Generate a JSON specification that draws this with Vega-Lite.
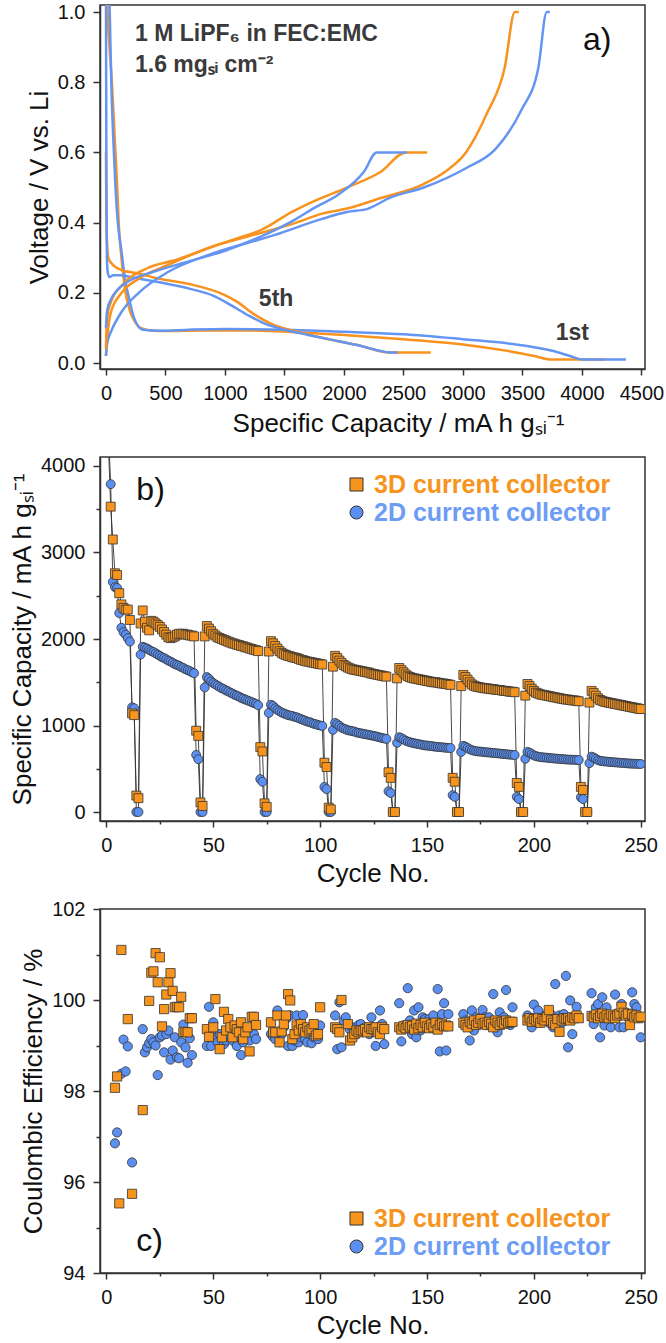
{
"$schema":"https://vega.github.io/schema/vega-lite/v6.json",
"padding":{"left":8,"top":1,"right":0,"bottom":0},
"bounds":"flush",
"config":{"font":"Liberation Sans","view":{"stroke":"#333","strokeWidth":1.5},
"axis":{"domainColor":"#333","domainWidth":1.5,"tickColor":"#333","tickWidth":1.5,"labelFontSize":20,"labelColor":"#111","labelFont":"Liberation Sans","titleFont":"Liberation Sans","titleFontSize":26,"titleFontWeight":"normal","titleColor":"#111","grid":false,"labelFlush":false,"labelOverlap":false},
"axisX":{"labelPadding":8,"titlePadding":5},
"axisY":{"labelPadding":8}},
"spacing":88,
"resolve":{"scale":{"color":"independent","shape":"independent"},"legend":{"color":"independent","shape":"independent"}},
"datasets":{
"curves":[
{"k":"3D1d","s":"3D","i":0,"q":10,"v":1.1},{"k":"3D1d","s":"3D","i":1,"q":14,"v":1.0},{"k":"3D1d","s":"3D","i":2,"q":30,"v":0.9},{"k":"3D1d","s":"3D","i":3,"q":50,"v":0.8},{"k":"3D1d","s":"3D","i":4,"q":65,"v":0.7},{"k":"3D1d","s":"3D","i":5,"q":80,"v":0.6},{"k":"3D1d","s":"3D","i":6,"q":95,"v":0.5},{"k":"3D1d","s":"3D","i":7,"q":107,"v":0.4},{"k":"3D1d","s":"3D","i":8,"q":130,"v":0.3},{"k":"3D1d","s":"3D","i":9,"q":165,"v":0.2},{"k":"3D1d","s":"3D","i":10,"q":200,"v":0.15},{"k":"3D1d","s":"3D","i":11,"q":240,"v":0.12},{"k":"3D1d","s":"3D","i":12,"q":290,"v":0.1},{"k":"3D1d","s":"3D","i":13,"q":380,"v":0.093},{"k":"3D1d","s":"3D","i":14,"q":500,"v":0.091},{"k":"3D1d","s":"3D","i":15,"q":800,"v":0.093},{"k":"3D1d","s":"3D","i":16,"q":1200,"v":0.093},{"k":"3D1d","s":"3D","i":17,"q":1600,"v":0.088},{"k":"3D1d","s":"3D","i":18,"q":2000,"v":0.08},{"k":"3D1d","s":"3D","i":19,"q":2500,"v":0.068},{"k":"3D1d","s":"3D","i":20,"q":3000,"v":0.053},{"k":"3D1d","s":"3D","i":21,"q":3400,"v":0.033},{"k":"3D1d","s":"3D","i":22,"q":3600,"v":0.02},{"k":"3D1d","s":"3D","i":23,"q":3740,"v":0.01},{"k":"3D1d","s":"3D","i":24,"q":4200,"v":0.01},
{"k":"2D1d","s":"2D","i":0,"q":25,"v":1.1},{"k":"2D1d","s":"2D","i":1,"q":32,"v":1.0},{"k":"2D1d","s":"2D","i":2,"q":45,"v":0.8},{"k":"2D1d","s":"2D","i":3,"q":60,"v":0.65},{"k":"2D1d","s":"2D","i":4,"q":80,"v":0.5},{"k":"2D1d","s":"2D","i":5,"q":100,"v":0.4},{"k":"2D1d","s":"2D","i":6,"q":130,"v":0.32},{"k":"2D1d","s":"2D","i":7,"q":160,"v":0.24},{"k":"2D1d","s":"2D","i":8,"q":190,"v":0.19},{"k":"2D1d","s":"2D","i":9,"q":240,"v":0.125},{"k":"2D1d","s":"2D","i":10,"q":310,"v":0.095},{"k":"2D1d","s":"2D","i":11,"q":450,"v":0.092},{"k":"2D1d","s":"2D","i":12,"q":700,"v":0.095},{"k":"2D1d","s":"2D","i":13,"q":1000,"v":0.097},{"k":"2D1d","s":"2D","i":14,"q":1500,"v":0.095},{"k":"2D1d","s":"2D","i":15,"q":2000,"v":0.089},{"k":"2D1d","s":"2D","i":16,"q":2500,"v":0.082},{"k":"2D1d","s":"2D","i":17,"q":3000,"v":0.068},{"k":"2D1d","s":"2D","i":18,"q":3400,"v":0.055},{"k":"2D1d","s":"2D","i":19,"q":3750,"v":0.035},{"k":"2D1d","s":"2D","i":20,"q":3900,"v":0.02},{"k":"2D1d","s":"2D","i":21,"q":4000,"v":0.01},{"k":"2D1d","s":"2D","i":22,"q":4370,"v":0.01},
{"k":"3D5d","s":"3D","i":0,"q":0,"v":0.6},{"k":"3D5d","s":"3D","i":1,"q":3,"v":0.45},{"k":"3D5d","s":"3D","i":2,"q":8,"v":0.35},{"k":"3D5d","s":"3D","i":3,"q":20,"v":0.3},{"k":"3D5d","s":"3D","i":4,"q":45,"v":0.285},{"k":"3D5d","s":"3D","i":5,"q":130,"v":0.265},{"k":"3D5d","s":"3D","i":6,"q":275,"v":0.255},{"k":"3D5d","s":"3D","i":7,"q":450,"v":0.24},{"k":"3D5d","s":"3D","i":8,"q":700,"v":0.225},{"k":"3D5d","s":"3D","i":9,"q":990,"v":0.195},{"k":"3D5d","s":"3D","i":10,"q":1100,"v":0.175},{"k":"3D5d","s":"3D","i":11,"q":1240,"v":0.14},{"k":"3D5d","s":"3D","i":12,"q":1420,"v":0.107},{"k":"3D5d","s":"3D","i":13,"q":1600,"v":0.09},{"k":"3D5d","s":"3D","i":14,"q":1880,"v":0.067},{"k":"3D5d","s":"3D","i":15,"q":2130,"v":0.05},{"k":"3D5d","s":"3D","i":16,"q":2380,"v":0.03},{"k":"3D5d","s":"3D","i":17,"q":2730,"v":0.03},
{"k":"2D5d","s":"2D","i":0,"q":0,"v":1.1},{"k":"2D5d","s":"2D","i":1,"q":2,"v":0.8},{"k":"2D5d","s":"2D","i":2,"q":4,"v":0.5},{"k":"2D5d","s":"2D","i":3,"q":8,"v":0.3},{"k":"2D5d","s":"2D","i":4,"q":15,"v":0.258},{"k":"2D5d","s":"2D","i":5,"q":30,"v":0.245},{"k":"2D5d","s":"2D","i":6,"q":60,"v":0.25},{"k":"2D5d","s":"2D","i":7,"q":120,"v":0.25},{"k":"2D5d","s":"2D","i":8,"q":250,"v":0.242},{"k":"2D5d","s":"2D","i":9,"q":450,"v":0.23},{"k":"2D5d","s":"2D","i":10,"q":700,"v":0.212},{"k":"2D5d","s":"2D","i":11,"q":900,"v":0.192},{"k":"2D5d","s":"2D","i":12,"q":1050,"v":0.165},{"k":"2D5d","s":"2D","i":13,"q":1200,"v":0.135},{"k":"2D5d","s":"2D","i":14,"q":1350,"v":0.11},{"k":"2D5d","s":"2D","i":15,"q":1500,"v":0.095},{"k":"2D5d","s":"2D","i":16,"q":1700,"v":0.08},{"k":"2D5d","s":"2D","i":17,"q":1900,"v":0.066},{"k":"2D5d","s":"2D","i":18,"q":2100,"v":0.052},{"k":"2D5d","s":"2D","i":19,"q":2300,"v":0.035},{"k":"2D5d","s":"2D","i":20,"q":2380,"v":0.03},{"k":"2D5d","s":"2D","i":21,"q":2450,"v":0.03},
{"k":"3D1c","s":"3D","i":0,"q":0,"v":0.02},{"k":"3D1c","s":"3D","i":1,"q":7,"v":0.05},{"k":"3D1c","s":"3D","i":2,"q":14,"v":0.08},{"k":"3D1c","s":"3D","i":3,"q":43,"v":0.146},{"k":"3D1c","s":"3D","i":4,"q":132,"v":0.2},{"k":"3D1c","s":"3D","i":5,"q":275,"v":0.24},{"k":"3D1c","s":"3D","i":6,"q":525,"v":0.28},{"k":"3D1c","s":"3D","i":7,"q":880,"v":0.33},{"k":"3D1c","s":"3D","i":8,"q":1240,"v":0.365},{"k":"3D1c","s":"3D","i":9,"q":1600,"v":0.4},{"k":"3D1c","s":"3D","i":10,"q":1810,"v":0.425},{"k":"3D1c","s":"3D","i":11,"q":2025,"v":0.44},{"k":"3D1c","s":"3D","i":12,"q":2310,"v":0.47},{"k":"3D1c","s":"3D","i":13,"q":2670,"v":0.51},{"k":"3D1c","s":"3D","i":14,"q":2850,"v":0.545},{"k":"3D1c","s":"3D","i":15,"q":3025,"v":0.6},{"k":"3D1c","s":"3D","i":16,"q":3200,"v":0.71},{"k":"3D1c","s":"3D","i":17,"q":3350,"v":0.84},{"k":"3D1c","s":"3D","i":18,"q":3436,"v":1.0},{"k":"3D1c","s":"3D","i":19,"q":3470,"v":1.0},
{"k":"2D1c","s":"2D","i":0,"q":0,"v":0.02},{"k":"2D1c","s":"2D","i":1,"q":7,"v":0.05},{"k":"2D1c","s":"2D","i":2,"q":20,"v":0.07},{"k":"2D1c","s":"2D","i":3,"q":43,"v":0.09},{"k":"2D1c","s":"2D","i":4,"q":132,"v":0.146},{"k":"2D1c","s":"2D","i":5,"q":275,"v":0.2},{"k":"2D1c","s":"2D","i":6,"q":525,"v":0.26},{"k":"2D1c","s":"2D","i":7,"q":880,"v":0.31},{"k":"2D1c","s":"2D","i":8,"q":1420,"v":0.365},{"k":"2D1c","s":"2D","i":9,"q":1810,"v":0.41},{"k":"2D1c","s":"2D","i":10,"q":2025,"v":0.43},{"k":"2D1c","s":"2D","i":11,"q":2205,"v":0.44},{"k":"2D1c","s":"2D","i":12,"q":2380,"v":0.47},{"k":"2D1c","s":"2D","i":13,"q":2670,"v":0.5},{"k":"2D1c","s":"2D","i":14,"q":3025,"v":0.555},{"k":"2D1c","s":"2D","i":15,"q":3275,"v":0.61},{"k":"2D1c","s":"2D","i":16,"q":3490,"v":0.72},{"k":"2D1c","s":"2D","i":17,"q":3633,"v":0.84},{"k":"2D1c","s":"2D","i":18,"q":3704,"v":1.0},{"k":"2D1c","s":"2D","i":19,"q":3730,"v":1.0},
{"k":"3D5c","s":"3D","i":0,"q":0,"v":0.04},{"k":"3D5c","s":"3D","i":1,"q":5,"v":0.1},{"k":"3D5c","s":"3D","i":2,"q":15,"v":0.14},{"k":"3D5c","s":"3D","i":3,"q":43,"v":0.175},{"k":"3D5c","s":"3D","i":4,"q":132,"v":0.22},{"k":"3D5c","s":"3D","i":5,"q":346,"v":0.27},{"k":"3D5c","s":"3D","i":6,"q":600,"v":0.295},{"k":"3D5c","s":"3D","i":7,"q":880,"v":0.33},{"k":"3D5c","s":"3D","i":8,"q":1100,"v":0.355},{"k":"3D5c","s":"3D","i":9,"q":1310,"v":0.38},{"k":"3D5c","s":"3D","i":10,"q":1560,"v":0.43},{"k":"3D5c","s":"3D","i":11,"q":1740,"v":0.46},{"k":"3D5c","s":"3D","i":12,"q":2025,"v":0.5},{"k":"3D5c","s":"3D","i":13,"q":2310,"v":0.545},{"k":"3D5c","s":"3D","i":14,"q":2520,"v":0.6},{"k":"3D5c","s":"3D","i":15,"q":2700,"v":0.6},
{"k":"2D5c","s":"2D","i":0,"q":0,"v":0.1},{"k":"2D5c","s":"2D","i":1,"q":10,"v":0.15},{"k":"2D5c","s":"2D","i":2,"q":40,"v":0.18},{"k":"2D5c","s":"2D","i":3,"q":100,"v":0.21},{"k":"2D5c","s":"2D","i":4,"q":200,"v":0.235},{"k":"2D5c","s":"2D","i":5,"q":400,"v":0.26},{"k":"2D5c","s":"2D","i":6,"q":700,"v":0.29},{"k":"2D5c","s":"2D","i":7,"q":1000,"v":0.32},{"k":"2D5c","s":"2D","i":8,"q":1300,"v":0.36},{"k":"2D5c","s":"2D","i":9,"q":1596,"v":0.41},{"k":"2D5c","s":"2D","i":10,"q":1740,"v":0.44},{"k":"2D5c","s":"2D","i":11,"q":1954,"v":0.48},{"k":"2D5c","s":"2D","i":12,"q":2168,"v":0.545},{"k":"2D5c","s":"2D","i":13,"q":2275,"v":0.6},{"k":"2D5c","s":"2D","i":14,"q":2530,"v":0.6}
],
"cap":[
{"s":"2D","c":1,"q":4370},{"s":"2D","c":2,"q":3790},{"s":"2D","c":3,"q":2660},{"s":"2D","c":4,"q":2600},{"s":"2D","c":5,"q":2590},{"s":"2D","c":6,"q":2300},{"s":"2D","c":7,"q":2130},{"s":"2D","c":8,"q":2080},{"s":"2D","c":9,"q":2050},{"s":"2D","c":10,"q":2010},{"s":"2D","c":11,"q":1970},{"s":"2D","c":12,"q":1210},{"s":"2D","c":13,"q":1200},{"s":"2D","c":14,"q":0},{"s":"2D","c":15,"q":0},{"s":"2D","c":16,"q":1820},{"s":"2D","c":17,"q":1910},{"s":"2D","c":18,"q":1900},{"s":"2D","c":19,"q":1890},{"s":"2D","c":20,"q":1875},{"s":"2D","c":21,"q":1860},{"s":"2D","c":22,"q":1850},{"s":"2D","c":23,"q":1835},{"s":"2D","c":24,"q":1820},{"s":"2D","c":25,"q":1805},{"s":"2D","c":26,"q":1790},{"s":"2D","c":27,"q":1780},{"s":"2D","c":28,"q":1765},{"s":"2D","c":29,"q":1750},{"s":"2D","c":30,"q":1740},{"s":"2D","c":31,"q":1725},{"s":"2D","c":32,"q":1710},{"s":"2D","c":33,"q":1700},{"s":"2D","c":34,"q":1690},{"s":"2D","c":35,"q":1675},{"s":"2D","c":36,"q":1665},{"s":"2D","c":37,"q":1650},{"s":"2D","c":38,"q":1640},{"s":"2D","c":39,"q":1630},{"s":"2D","c":40,"q":1615},{"s":"2D","c":41,"q":1605},{"s":"2D","c":42,"q":660},{"s":"2D","c":43,"q":610},{"s":"2D","c":44,"q":0},{"s":"2D","c":45,"q":0},{"s":"2D","c":46,"q":1440},{"s":"2D","c":47,"q":1560},{"s":"2D","c":48,"q":1540},{"s":"2D","c":49,"q":1510},{"s":"2D","c":50,"q":1490},{"s":"2D","c":51,"q":1475},{"s":"2D","c":52,"q":1460},{"s":"2D","c":53,"q":1445},{"s":"2D","c":54,"q":1430},{"s":"2D","c":55,"q":1420},{"s":"2D","c":56,"q":1405},{"s":"2D","c":57,"q":1395},{"s":"2D","c":58,"q":1380},{"s":"2D","c":59,"q":1370},{"s":"2D","c":60,"q":1355},{"s":"2D","c":61,"q":1345},{"s":"2D","c":62,"q":1335},{"s":"2D","c":63,"q":1320},{"s":"2D","c":64,"q":1310},{"s":"2D","c":65,"q":1300},{"s":"2D","c":66,"q":1290},{"s":"2D","c":67,"q":1280},{"s":"2D","c":68,"q":1270},{"s":"2D","c":69,"q":1260},{"s":"2D","c":70,"q":1250},{"s":"2D","c":71,"q":1235},{"s":"2D","c":72,"q":380},{"s":"2D","c":73,"q":350},{"s":"2D","c":74,"q":0},{"s":"2D","c":75,"q":0},{"s":"2D","c":76,"q":1145},{"s":"2D","c":77,"q":1240},{"s":"2D","c":78,"q":1225},{"s":"2D","c":79,"q":1200},{"s":"2D","c":80,"q":1180},{"s":"2D","c":81,"q":1165},{"s":"2D","c":82,"q":1150},{"s":"2D","c":83,"q":1140},{"s":"2D","c":84,"q":1130},{"s":"2D","c":85,"q":1120},{"s":"2D","c":86,"q":1115},{"s":"2D","c":87,"q":1110},{"s":"2D","c":88,"q":1100},{"s":"2D","c":89,"q":1095},{"s":"2D","c":90,"q":1085},{"s":"2D","c":91,"q":1075},{"s":"2D","c":92,"q":1065},{"s":"2D","c":93,"q":1055},{"s":"2D","c":94,"q":1045},{"s":"2D","c":95,"q":1040},{"s":"2D","c":96,"q":1030},{"s":"2D","c":97,"q":1020},{"s":"2D","c":98,"q":1015},{"s":"2D","c":99,"q":1005},{"s":"2D","c":100,"q":1000},{"s":"2D","c":101,"q":995},{"s":"2D","c":102,"q":290},{"s":"2D","c":103,"q":265},{"s":"2D","c":104,"q":0},{"s":"2D","c":105,"q":0},{"s":"2D","c":106,"q":950},{"s":"2D","c":107,"q":1030},{"s":"2D","c":108,"q":1015},{"s":"2D","c":109,"q":995},{"s":"2D","c":110,"q":975},{"s":"2D","c":111,"q":965},{"s":"2D","c":112,"q":955},{"s":"2D","c":113,"q":945},{"s":"2D","c":114,"q":940},{"s":"2D","c":115,"q":935},{"s":"2D","c":116,"q":930},{"s":"2D","c":117,"q":920},{"s":"2D","c":118,"q":915},{"s":"2D","c":119,"q":910},{"s":"2D","c":120,"q":905},{"s":"2D","c":121,"q":900},{"s":"2D","c":122,"q":895},{"s":"2D","c":123,"q":890},{"s":"2D","c":124,"q":885},{"s":"2D","c":125,"q":880},{"s":"2D","c":126,"q":875},{"s":"2D","c":127,"q":868},{"s":"2D","c":128,"q":862},{"s":"2D","c":129,"q":855},{"s":"2D","c":130,"q":850},{"s":"2D","c":131,"q":845},{"s":"2D","c":132,"q":240},{"s":"2D","c":133,"q":220},{"s":"2D","c":134,"q":0},{"s":"2D","c":135,"q":0},{"s":"2D","c":136,"q":800},{"s":"2D","c":137,"q":865},{"s":"2D","c":138,"q":855},{"s":"2D","c":139,"q":840},{"s":"2D","c":140,"q":825},{"s":"2D","c":141,"q":815},{"s":"2D","c":142,"q":808},{"s":"2D","c":143,"q":800},{"s":"2D","c":144,"q":795},{"s":"2D","c":145,"q":790},{"s":"2D","c":146,"q":785},{"s":"2D","c":147,"q":780},{"s":"2D","c":148,"q":775},{"s":"2D","c":149,"q":770},{"s":"2D","c":150,"q":768},{"s":"2D","c":151,"q":765},{"s":"2D","c":152,"q":762},{"s":"2D","c":153,"q":758},{"s":"2D","c":154,"q":755},{"s":"2D","c":155,"q":752},{"s":"2D","c":156,"q":750},{"s":"2D","c":157,"q":748},{"s":"2D","c":158,"q":745},{"s":"2D","c":159,"q":743},{"s":"2D","c":160,"q":741},{"s":"2D","c":161,"q":740},{"s":"2D","c":162,"q":195},{"s":"2D","c":163,"q":175},{"s":"2D","c":164,"q":0},{"s":"2D","c":165,"q":0},{"s":"2D","c":166,"q":695},{"s":"2D","c":167,"q":765},{"s":"2D","c":168,"q":755},{"s":"2D","c":169,"q":740},{"s":"2D","c":170,"q":725},{"s":"2D","c":171,"q":715},{"s":"2D","c":172,"q":708},{"s":"2D","c":173,"q":703},{"s":"2D","c":174,"q":700},{"s":"2D","c":175,"q":698},{"s":"2D","c":176,"q":695},{"s":"2D","c":177,"q":692},{"s":"2D","c":178,"q":690},{"s":"2D","c":179,"q":688},{"s":"2D","c":180,"q":685},{"s":"2D","c":181,"q":683},{"s":"2D","c":182,"q":680},{"s":"2D","c":183,"q":678},{"s":"2D","c":184,"q":675},{"s":"2D","c":185,"q":673},{"s":"2D","c":186,"q":670},{"s":"2D","c":187,"q":668},{"s":"2D","c":188,"q":665},{"s":"2D","c":189,"q":663},{"s":"2D","c":190,"q":661},{"s":"2D","c":191,"q":659},{"s":"2D","c":192,"q":175},{"s":"2D","c":193,"q":150},{"s":"2D","c":194,"q":0},{"s":"2D","c":195,"q":0},{"s":"2D","c":196,"q":615},{"s":"2D","c":197,"q":695},{"s":"2D","c":198,"q":685},{"s":"2D","c":199,"q":670},{"s":"2D","c":200,"q":655},{"s":"2D","c":201,"q":645},{"s":"2D","c":202,"q":640},{"s":"2D","c":203,"q":635},{"s":"2D","c":204,"q":632},{"s":"2D","c":205,"q":630},{"s":"2D","c":206,"q":628},{"s":"2D","c":207,"q":625},{"s":"2D","c":208,"q":622},{"s":"2D","c":209,"q":620},{"s":"2D","c":210,"q":618},{"s":"2D","c":211,"q":616},{"s":"2D","c":212,"q":614},{"s":"2D","c":213,"q":612},{"s":"2D","c":214,"q":610},{"s":"2D","c":215,"q":608},{"s":"2D","c":216,"q":606},{"s":"2D","c":217,"q":605},{"s":"2D","c":218,"q":604},{"s":"2D","c":219,"q":603},{"s":"2D","c":220,"q":602},{"s":"2D","c":221,"q":601},{"s":"2D","c":222,"q":170},{"s":"2D","c":223,"q":150},{"s":"2D","c":224,"q":0},{"s":"2D","c":225,"q":0},{"s":"2D","c":226,"q":565},{"s":"2D","c":227,"q":640},{"s":"2D","c":228,"q":630},{"s":"2D","c":229,"q":615},{"s":"2D","c":230,"q":600},{"s":"2D","c":231,"q":592},{"s":"2D","c":232,"q":588},{"s":"2D","c":233,"q":585},{"s":"2D","c":234,"q":583},{"s":"2D","c":235,"q":580},{"s":"2D","c":236,"q":578},{"s":"2D","c":237,"q":576},{"s":"2D","c":238,"q":574},{"s":"2D","c":239,"q":572},{"s":"2D","c":240,"q":570},{"s":"2D","c":241,"q":568},{"s":"2D","c":242,"q":566},{"s":"2D","c":243,"q":564},{"s":"2D","c":244,"q":562},{"s":"2D","c":245,"q":560},{"s":"2D","c":246,"q":559},{"s":"2D","c":247,"q":558},{"s":"2D","c":248,"q":557},{"s":"2D","c":249,"q":556},{"s":"2D","c":250,"q":555},
{"s":"3D","c":1,"q":4200},{"s":"3D","c":2,"q":3530},{"s":"3D","c":3,"q":3150},{"s":"3D","c":4,"q":2760},{"s":"3D","c":5,"q":2740},{"s":"3D","c":6,"q":2530},{"s":"3D","c":7,"q":2400},{"s":"3D","c":8,"q":2360},{"s":"3D","c":9,"q":2340},{"s":"3D","c":10,"q":2340},{"s":"3D","c":11,"q":2220},{"s":"3D","c":12,"q":1140},{"s":"3D","c":13,"q":1120},{"s":"3D","c":14,"q":190},{"s":"3D","c":15,"q":160},{"s":"3D","c":16,"q":2180},{"s":"3D","c":17,"q":2330},{"s":"3D","c":18,"q":2200},{"s":"3D","c":19,"q":2130},{"s":"3D","c":20,"q":2100},{"s":"3D","c":21,"q":2210},{"s":"3D","c":22,"q":2200},{"s":"3D","c":23,"q":2180},{"s":"3D","c":24,"q":2160},{"s":"3D","c":25,"q":2140},{"s":"3D","c":26,"q":2110},{"s":"3D","c":27,"q":2080},{"s":"3D","c":28,"q":2050},{"s":"3D","c":29,"q":2020},{"s":"3D","c":30,"q":2010},{"s":"3D","c":31,"q":2020},{"s":"3D","c":32,"q":2030},{"s":"3D","c":33,"q":2050},{"s":"3D","c":34,"q":2060},{"s":"3D","c":35,"q":2060},{"s":"3D","c":36,"q":2060},{"s":"3D","c":37,"q":2050},{"s":"3D","c":38,"q":2050},{"s":"3D","c":39,"q":2040},{"s":"3D","c":40,"q":2040},{"s":"3D","c":41,"q":2030},{"s":"3D","c":42,"q":940},{"s":"3D","c":43,"q":880},{"s":"3D","c":44,"q":110},{"s":"3D","c":45,"q":70},{"s":"3D","c":46,"q":2030},{"s":"3D","c":47,"q":2150},{"s":"3D","c":48,"q":2120},{"s":"3D","c":49,"q":2090},{"s":"3D","c":50,"q":2060},{"s":"3D","c":51,"q":2040},{"s":"3D","c":52,"q":2020},{"s":"3D","c":53,"q":2010},{"s":"3D","c":54,"q":2000},{"s":"3D","c":55,"q":1990},{"s":"3D","c":56,"q":1980},{"s":"3D","c":57,"q":1970},{"s":"3D","c":58,"q":1960},{"s":"3D","c":59,"q":1950},{"s":"3D","c":60,"q":1945},{"s":"3D","c":61,"q":1935},{"s":"3D","c":62,"q":1930},{"s":"3D","c":63,"q":1920},{"s":"3D","c":64,"q":1915},{"s":"3D","c":65,"q":1905},{"s":"3D","c":66,"q":1900},{"s":"3D","c":67,"q":1890},{"s":"3D","c":68,"q":1885},{"s":"3D","c":69,"q":1875},{"s":"3D","c":70,"q":1870},{"s":"3D","c":71,"q":1860},{"s":"3D","c":72,"q":750},{"s":"3D","c":73,"q":700},{"s":"3D","c":74,"q":100},{"s":"3D","c":75,"q":60},{"s":"3D","c":76,"q":1855},{"s":"3D","c":77,"q":1975},{"s":"3D","c":78,"q":1950},{"s":"3D","c":79,"q":1920},{"s":"3D","c":80,"q":1890},{"s":"3D","c":81,"q":1860},{"s":"3D","c":82,"q":1840},{"s":"3D","c":83,"q":1825},{"s":"3D","c":84,"q":1815},{"s":"3D","c":85,"q":1805},{"s":"3D","c":86,"q":1800},{"s":"3D","c":87,"q":1790},{"s":"3D","c":88,"q":1785},{"s":"3D","c":89,"q":1780},{"s":"3D","c":90,"q":1770},{"s":"3D","c":91,"q":1760},{"s":"3D","c":92,"q":1755},{"s":"3D","c":93,"q":1745},{"s":"3D","c":94,"q":1740},{"s":"3D","c":95,"q":1735},{"s":"3D","c":96,"q":1730},{"s":"3D","c":97,"q":1725},{"s":"3D","c":98,"q":1720},{"s":"3D","c":99,"q":1715},{"s":"3D","c":100,"q":1710},{"s":"3D","c":101,"q":1705},{"s":"3D","c":102,"q":570},{"s":"3D","c":103,"q":520},{"s":"3D","c":104,"q":50},{"s":"3D","c":105,"q":30},{"s":"3D","c":106,"q":1680},{"s":"3D","c":107,"q":1805},{"s":"3D","c":108,"q":1780},{"s":"3D","c":109,"q":1750},{"s":"3D","c":110,"q":1725},{"s":"3D","c":111,"q":1700},{"s":"3D","c":112,"q":1685},{"s":"3D","c":113,"q":1670},{"s":"3D","c":114,"q":1660},{"s":"3D","c":115,"q":1650},{"s":"3D","c":116,"q":1645},{"s":"3D","c":117,"q":1640},{"s":"3D","c":118,"q":1635},{"s":"3D","c":119,"q":1630},{"s":"3D","c":120,"q":1625},{"s":"3D","c":121,"q":1620},{"s":"3D","c":122,"q":1615},{"s":"3D","c":123,"q":1610},{"s":"3D","c":124,"q":1600},{"s":"3D","c":125,"q":1595},{"s":"3D","c":126,"q":1590},{"s":"3D","c":127,"q":1585},{"s":"3D","c":128,"q":1580},{"s":"3D","c":129,"q":1575},{"s":"3D","c":130,"q":1570},{"s":"3D","c":131,"q":1565},{"s":"3D","c":132,"q":460},{"s":"3D","c":133,"q":395},{"s":"3D","c":134,"q":0},{"s":"3D","c":135,"q":0},{"s":"3D","c":136,"q":1545},{"s":"3D","c":137,"q":1665},{"s":"3D","c":138,"q":1640},{"s":"3D","c":139,"q":1615},{"s":"3D","c":140,"q":1590},{"s":"3D","c":141,"q":1570},{"s":"3D","c":142,"q":1560},{"s":"3D","c":143,"q":1550},{"s":"3D","c":144,"q":1545},{"s":"3D","c":145,"q":1540},{"s":"3D","c":146,"q":1535},{"s":"3D","c":147,"q":1530},{"s":"3D","c":148,"q":1525},{"s":"3D","c":149,"q":1520},{"s":"3D","c":150,"q":1515},{"s":"3D","c":151,"q":1510},{"s":"3D","c":152,"q":1505},{"s":"3D","c":153,"q":1500},{"s":"3D","c":154,"q":1500},{"s":"3D","c":155,"q":1495},{"s":"3D","c":156,"q":1490},{"s":"3D","c":157,"q":1485},{"s":"3D","c":158,"q":1485},{"s":"3D","c":159,"q":1480},{"s":"3D","c":160,"q":1475},{"s":"3D","c":161,"q":1470},{"s":"3D","c":162,"q":395},{"s":"3D","c":163,"q":350},{"s":"3D","c":164,"q":0},{"s":"3D","c":165,"q":0},{"s":"3D","c":166,"q":1455},{"s":"3D","c":167,"q":1585},{"s":"3D","c":168,"q":1560},{"s":"3D","c":169,"q":1530},{"s":"3D","c":170,"q":1500},{"s":"3D","c":171,"q":1475},{"s":"3D","c":172,"q":1460},{"s":"3D","c":173,"q":1450},{"s":"3D","c":174,"q":1445},{"s":"3D","c":175,"q":1440},{"s":"3D","c":176,"q":1435},{"s":"3D","c":177,"q":1430},{"s":"3D","c":178,"q":1430},{"s":"3D","c":179,"q":1425},{"s":"3D","c":180,"q":1420},{"s":"3D","c":181,"q":1420},{"s":"3D","c":182,"q":1415},{"s":"3D","c":183,"q":1410},{"s":"3D","c":184,"q":1410},{"s":"3D","c":185,"q":1405},{"s":"3D","c":186,"q":1400},{"s":"3D","c":187,"q":1400},{"s":"3D","c":188,"q":1395},{"s":"3D","c":189,"q":1390},{"s":"3D","c":190,"q":1390},{"s":"3D","c":191,"q":1385},{"s":"3D","c":192,"q":335},{"s":"3D","c":193,"q":290},{"s":"3D","c":194,"q":0},{"s":"3D","c":195,"q":0},{"s":"3D","c":196,"q":1345},{"s":"3D","c":197,"q":1480},{"s":"3D","c":198,"q":1455},{"s":"3D","c":199,"q":1425},{"s":"3D","c":200,"q":1400},{"s":"3D","c":201,"q":1380},{"s":"3D","c":202,"q":1370},{"s":"3D","c":203,"q":1360},{"s":"3D","c":204,"q":1355},{"s":"3D","c":205,"q":1350},{"s":"3D","c":206,"q":1345},{"s":"3D","c":207,"q":1340},{"s":"3D","c":208,"q":1335},{"s":"3D","c":209,"q":1330},{"s":"3D","c":210,"q":1325},{"s":"3D","c":211,"q":1320},{"s":"3D","c":212,"q":1315},{"s":"3D","c":213,"q":1310},{"s":"3D","c":214,"q":1305},{"s":"3D","c":215,"q":1300},{"s":"3D","c":216,"q":1300},{"s":"3D","c":217,"q":1295},{"s":"3D","c":218,"q":1290},{"s":"3D","c":219,"q":1290},{"s":"3D","c":220,"q":1285},{"s":"3D","c":221,"q":1280},{"s":"3D","c":222,"q":290},{"s":"3D","c":223,"q":255},{"s":"3D","c":224,"q":0},{"s":"3D","c":225,"q":0},{"s":"3D","c":226,"q":1265},{"s":"3D","c":227,"q":1400},{"s":"3D","c":228,"q":1375},{"s":"3D","c":229,"q":1345},{"s":"3D","c":230,"q":1315},{"s":"3D","c":231,"q":1295},{"s":"3D","c":232,"q":1285},{"s":"3D","c":233,"q":1275},{"s":"3D","c":234,"q":1270},{"s":"3D","c":235,"q":1265},{"s":"3D","c":236,"q":1260},{"s":"3D","c":237,"q":1255},{"s":"3D","c":238,"q":1250},{"s":"3D","c":239,"q":1245},{"s":"3D","c":240,"q":1240},{"s":"3D","c":241,"q":1235},{"s":"3D","c":242,"q":1230},{"s":"3D","c":243,"q":1225},{"s":"3D","c":244,"q":1220},{"s":"3D","c":245,"q":1215},{"s":"3D","c":246,"q":1210},{"s":"3D","c":247,"q":1205},{"s":"3D","c":248,"q":1200},{"s":"3D","c":249,"q":1195},{"s":"3D","c":250,"q":1190}
],
"ce":[
{"s":"2D","c":4,"e":96.85},{"s":"2D","c":5,"e":97.09},{"s":"2D","c":7,"e":98.38},{"s":"2D","c":8,"e":99.13},{"s":"2D","c":9,"e":98.43},{"s":"2D","c":10,"e":98.98},{"s":"2D","c":12,"e":96.43},{"s":"2D","c":17,"e":99.36},{"s":"2D","c":18,"e":98.85},{"s":"2D","c":19,"e":98.96},{"s":"2D","c":20,"e":99.05},{"s":"2D","c":21,"e":99.14},{"s":"2D","c":22,"e":99.07},{"s":"2D","c":23,"e":99.0},{"s":"2D","c":24,"e":98.35},{"s":"2D","c":25,"e":99.18},{"s":"2D","c":26,"e":99.22},{"s":"2D","c":27,"e":98.85},{"s":"2D","c":28,"e":99.25},{"s":"2D","c":29,"e":99.33},{"s":"2D","c":30,"e":98.69},{"s":"2D","c":31,"e":98.89},{"s":"2D","c":32,"e":99.18},{"s":"2D","c":33,"e":98.74},{"s":"2D","c":34,"e":98.72},{"s":"2D","c":35,"e":99.07},{"s":"2D","c":36,"e":99.46},{"s":"2D","c":37,"e":98.96},{"s":"2D","c":38,"e":98.62},{"s":"2D","c":39,"e":99.16},{"s":"2D","c":40,"e":98.79},
{"s":"2D","c":47,"e":98.99},{"s":"2D","c":48,"e":99.85},{"s":"2D","c":49,"e":98.99},{"s":"2D","c":50,"e":99.51},{"s":"2D","c":51,"e":99.18},{"s":"2D","c":52,"e":99.07},{"s":"2D","c":53,"e":99.25},{"s":"2D","c":54,"e":99.18},{"s":"2D","c":55,"e":99.03},{"s":"2D","c":56,"e":99.11},{"s":"2D","c":57,"e":99.29},{"s":"2D","c":58,"e":99.22},{"s":"2D","c":59,"e":99.11},{"s":"2D","c":60,"e":99.18},{"s":"2D","c":61,"e":98.99},{"s":"2D","c":62,"e":99.25},{"s":"2D","c":63,"e":98.79},{"s":"2D","c":64,"e":99.07},{"s":"2D","c":65,"e":99.22},{"s":"2D","c":66,"e":99.15},{"s":"2D","c":67,"e":99.11},{"s":"2D","c":68,"e":99.3},{"s":"2D","c":69,"e":99.25},{"s":"2D","c":70,"e":99.14},
{"s":"2D","c":77,"e":99.25},{"s":"2D","c":78,"e":99.19},{"s":"2D","c":79,"e":99.14},{"s":"2D","c":80,"e":99.77},{"s":"2D","c":81,"e":99.07},{"s":"2D","c":82,"e":99.25},{"s":"2D","c":83,"e":99.4},{"s":"2D","c":84,"e":99.58},{"s":"2D","c":85,"e":98.99},{"s":"2D","c":86,"e":99.66},{"s":"2D","c":87,"e":98.99},{"s":"2D","c":88,"e":99.11},{"s":"2D","c":89,"e":99.66},{"s":"2D","c":90,"e":99.07},{"s":"2D","c":91,"e":99.18},{"s":"2D","c":92,"e":99.67},{"s":"2D","c":93,"e":99.14},{"s":"2D","c":94,"e":99.07},{"s":"2D","c":95,"e":99.25},{"s":"2D","c":96,"e":99.05},{"s":"2D","c":97,"e":99.18},{"s":"2D","c":98,"e":99.4},{"s":"2D","c":99,"e":99.14},{"s":"2D","c":100,"e":99.44},
{"s":"2D","c":107,"e":99.66},{"s":"2D","c":108,"e":98.92},{"s":"2D","c":109,"e":99.95},{"s":"2D","c":110,"e":98.96},{"s":"2D","c":111,"e":99.55},{"s":"2D","c":112,"e":99.62},{"s":"2D","c":113,"e":99.47},{"s":"2D","c":114,"e":99.35},{"s":"2D","c":115,"e":99.4},{"s":"2D","c":116,"e":99.3},{"s":"2D","c":117,"e":99.25},{"s":"2D","c":118,"e":99.45},{"s":"2D","c":119,"e":99.47},{"s":"2D","c":120,"e":99.35},{"s":"2D","c":121,"e":99.4},{"s":"2D","c":122,"e":99.3},{"s":"2D","c":123,"e":99.25},{"s":"2D","c":124,"e":99.62},{"s":"2D","c":125,"e":99.3},{"s":"2D","c":126,"e":98.99},{"s":"2D","c":127,"e":99.4},{"s":"2D","c":128,"e":99.77},{"s":"2D","c":129,"e":99.47},{"s":"2D","c":130,"e":99.03},
{"s":"2D","c":137,"e":99.93},{"s":"2D","c":138,"e":99.09},{"s":"2D","c":139,"e":99.44},{"s":"2D","c":140,"e":99.4},{"s":"2D","c":141,"e":100.26},{"s":"2D","c":142,"e":99.55},{"s":"2D","c":143,"e":99.25},{"s":"2D","c":144,"e":99.77},{"s":"2D","c":145,"e":99.18},{"s":"2D","c":146,"e":99.84},{"s":"2D","c":147,"e":99.33},{"s":"2D","c":148,"e":99.62},{"s":"2D","c":149,"e":99.58},{"s":"2D","c":150,"e":99.5},{"s":"2D","c":151,"e":99.58},{"s":"2D","c":152,"e":99.45},{"s":"2D","c":153,"e":99.66},{"s":"2D","c":154,"e":99.5},{"s":"2D","c":155,"e":100.24},{"s":"2D","c":156,"e":98.87},{"s":"2D","c":157,"e":99.69},{"s":"2D","c":158,"e":99.93},{"s":"2D","c":159,"e":98.89},{"s":"2D","c":160,"e":99.69},
{"s":"2D","c":167,"e":99.69},{"s":"2D","c":168,"e":99.55},{"s":"2D","c":169,"e":99.5},{"s":"2D","c":170,"e":99.11},{"s":"2D","c":171,"e":99.77},{"s":"2D","c":172,"e":99.33},{"s":"2D","c":173,"e":99.62},{"s":"2D","c":174,"e":99.5},{"s":"2D","c":175,"e":99.55},{"s":"2D","c":176,"e":99.78},{"s":"2D","c":177,"e":99.62},{"s":"2D","c":178,"e":99.45},{"s":"2D","c":179,"e":99.62},{"s":"2D","c":180,"e":99.5},{"s":"2D","c":181,"e":100.13},{"s":"2D","c":182,"e":99.45},{"s":"2D","c":183,"e":99.29},{"s":"2D","c":184,"e":99.73},{"s":"2D","c":185,"e":99.5},{"s":"2D","c":186,"e":99.62},{"s":"2D","c":187,"e":100.22},{"s":"2D","c":188,"e":99.5},{"s":"2D","c":189,"e":99.45},{"s":"2D","c":190,"e":99.84},
{"s":"2D","c":197,"e":99.66},{"s":"2D","c":198,"e":99.55},{"s":"2D","c":199,"e":99.4},{"s":"2D","c":200,"e":99.9},{"s":"2D","c":201,"e":99.6},{"s":"2D","c":202,"e":99.77},{"s":"2D","c":203,"e":99.5},{"s":"2D","c":204,"e":99.55},{"s":"2D","c":205,"e":99.6},{"s":"2D","c":206,"e":99.69},{"s":"2D","c":207,"e":99.5},{"s":"2D","c":208,"e":99.69},{"s":"2D","c":209,"e":99.4},{"s":"2D","c":210,"e":100.35},{"s":"2D","c":211,"e":99.55},{"s":"2D","c":212,"e":99.66},{"s":"2D","c":213,"e":99.5},{"s":"2D","c":214,"e":99.69},{"s":"2D","c":215,"e":100.53},{"s":"2D","c":216,"e":98.96},{"s":"2D","c":217,"e":99.99},{"s":"2D","c":218,"e":99.25},{"s":"2D","c":219,"e":99.6},{"s":"2D","c":220,"e":99.85},
{"s":"2D","c":227,"e":100.15},{"s":"2D","c":228,"e":99.47},{"s":"2D","c":229,"e":99.84},{"s":"2D","c":230,"e":99.91},{"s":"2D","c":231,"e":99.18},{"s":"2D","c":232,"e":100.06},{"s":"2D","c":233,"e":99.44},{"s":"2D","c":234,"e":99.84},{"s":"2D","c":235,"e":99.66},{"s":"2D","c":236,"e":99.4},{"s":"2D","c":237,"e":99.6},{"s":"2D","c":238,"e":100.12},{"s":"2D","c":239,"e":99.62},{"s":"2D","c":240,"e":99.4},{"s":"2D","c":241,"e":99.91},{"s":"2D","c":242,"e":99.4},{"s":"2D","c":243,"e":99.69},{"s":"2D","c":244,"e":99.62},{"s":"2D","c":245,"e":99.5},{"s":"2D","c":246,"e":100.17},{"s":"2D","c":247,"e":99.91},{"s":"2D","c":248,"e":99.84},{"s":"2D","c":249,"e":99.6},{"s":"2D","c":250,"e":99.18},
{"s":"3D","c":4,"e":98.07},{"s":"3D","c":5,"e":98.32},{"s":"3D","c":6,"e":95.53},{"s":"3D","c":7,"e":101.1},{"s":"3D","c":10,"e":99.58},{"s":"3D","c":12,"e":95.74},{"s":"3D","c":17,"e":97.58},{"s":"3D","c":20,"e":99.98},{"s":"3D","c":21,"e":100.6},{"s":"3D","c":22,"e":100.63},{"s":"3D","c":23,"e":101.03},{"s":"3D","c":24,"e":100.39},{"s":"3D","c":25,"e":100.94},{"s":"3D","c":26,"e":99.42},{"s":"3D","c":27,"e":99.8},{"s":"3D","c":28,"e":100.12},{"s":"3D","c":29,"e":100.39},{"s":"3D","c":30,"e":100.59},{"s":"3D","c":31,"e":100.2},{"s":"3D","c":32,"e":99.84},{"s":"3D","c":33,"e":99.85},{"s":"3D","c":34,"e":99.84},{"s":"3D","c":35,"e":100.07},{"s":"3D","c":36,"e":99.29},{"s":"3D","c":37,"e":99.3},{"s":"3D","c":38,"e":99.29},{"s":"3D","c":39,"e":99.6},{"s":"3D","c":40,"e":99.6},
{"s":"3D","c":47,"e":99.36},{"s":"3D","c":48,"e":99.19},{"s":"3D","c":50,"e":99.4},{"s":"3D","c":51,"e":100.02},{"s":"3D","c":53,"e":98.92},{"s":"3D","c":54,"e":99.18},{"s":"3D","c":55,"e":99.74},{"s":"3D","c":56,"e":99.33},{"s":"3D","c":57,"e":99.58},{"s":"3D","c":58,"e":99.4},{"s":"3D","c":59,"e":99.18},{"s":"3D","c":60,"e":99.44},{"s":"3D","c":61,"e":99.36},{"s":"3D","c":62,"e":99.29},{"s":"3D","c":63,"e":99.51},{"s":"3D","c":64,"e":99.14},{"s":"3D","c":65,"e":99.29},{"s":"3D","c":66,"e":99.4},{"s":"3D","c":67,"e":98.87},{"s":"3D","c":68,"e":99.63},{"s":"3D","c":69,"e":99.63},{"s":"3D","c":70,"e":99.45},
{"s":"3D","c":77,"e":99.51},{"s":"3D","c":78,"e":99.29},{"s":"3D","c":79,"e":99.29},{"s":"3D","c":80,"e":99.66},{"s":"3D","c":81,"e":99.07},{"s":"3D","c":82,"e":99.31},{"s":"3D","c":83,"e":99.47},{"s":"3D","c":84,"e":99.66},{"s":"3D","c":85,"e":100.13},{"s":"3D","c":86,"e":99.99},{"s":"3D","c":87,"e":99.14},{"s":"3D","c":88,"e":99.25},{"s":"3D","c":89,"e":99.44},{"s":"3D","c":90,"e":99.33},{"s":"3D","c":91,"e":99.47},{"s":"3D","c":92,"e":99.36},{"s":"3D","c":93,"e":99.29},{"s":"3D","c":94,"e":99.4},{"s":"3D","c":95,"e":99.33},{"s":"3D","c":96,"e":99.36},{"s":"3D","c":97,"e":99.47},{"s":"3D","c":98,"e":99.22},{"s":"3D","c":99,"e":99.25},{"s":"3D","c":100,"e":99.84},
{"s":"3D","c":107,"e":99.4},{"s":"3D","c":108,"e":99.36},{"s":"3D","c":109,"e":99.29},{"s":"3D","c":110,"e":100.0},{"s":"3D","c":113,"e":99.47},{"s":"3D","c":114,"e":99.11},{"s":"3D","c":115,"e":99.18},{"s":"3D","c":116,"e":99.25},{"s":"3D","c":117,"e":99.33},{"s":"3D","c":118,"e":99.29},{"s":"3D","c":119,"e":99.33},{"s":"3D","c":120,"e":99.33},{"s":"3D","c":121,"e":99.36},{"s":"3D","c":122,"e":99.29},{"s":"3D","c":123,"e":99.4},{"s":"3D","c":124,"e":99.36},{"s":"3D","c":125,"e":99.36},{"s":"3D","c":126,"e":99.4},{"s":"3D","c":127,"e":99.29},{"s":"3D","c":128,"e":99.25},{"s":"3D","c":129,"e":99.4},{"s":"3D","c":130,"e":99.36},
{"s":"3D","c":137,"e":99.4},{"s":"3D","c":138,"e":99.35},{"s":"3D","c":139,"e":99.42},{"s":"3D","c":140,"e":99.38},{"s":"3D","c":141,"e":99.45},{"s":"3D","c":142,"e":99.4},{"s":"3D","c":143,"e":99.43},{"s":"3D","c":144,"e":99.35},{"s":"3D","c":145,"e":99.48},{"s":"3D","c":146,"e":99.38},{"s":"3D","c":147,"e":99.45},{"s":"3D","c":148,"e":99.4},{"s":"3D","c":149,"e":99.5},{"s":"3D","c":150,"e":99.42},{"s":"3D","c":151,"e":99.38},{"s":"3D","c":152,"e":99.46},{"s":"3D","c":153,"e":99.4},{"s":"3D","c":154,"e":99.5},{"s":"3D","c":155,"e":99.35},{"s":"3D","c":156,"e":99.45},{"s":"3D","c":157,"e":99.48},{"s":"3D","c":158,"e":99.42},{"s":"3D","c":159,"e":99.44},{"s":"3D","c":160,"e":99.42},
{"s":"3D","c":167,"e":99.5},{"s":"3D","c":168,"e":99.45},{"s":"3D","c":169,"e":99.4},{"s":"3D","c":170,"e":99.52},{"s":"3D","c":171,"e":99.48},{"s":"3D","c":172,"e":99.55},{"s":"3D","c":173,"e":99.45},{"s":"3D","c":174,"e":99.5},{"s":"3D","c":175,"e":99.58},{"s":"3D","c":176,"e":99.48},{"s":"3D","c":177,"e":99.5},{"s":"3D","c":178,"e":99.45},{"s":"3D","c":179,"e":99.52},{"s":"3D","c":180,"e":99.48},{"s":"3D","c":181,"e":99.4},{"s":"3D","c":182,"e":99.55},{"s":"3D","c":183,"e":99.5},{"s":"3D","c":184,"e":99.45},{"s":"3D","c":185,"e":99.52},{"s":"3D","c":186,"e":99.48},{"s":"3D","c":187,"e":99.55},{"s":"3D","c":188,"e":99.5},{"s":"3D","c":189,"e":99.52},{"s":"3D","c":190,"e":99.52},
{"s":"3D","c":197,"e":99.55},{"s":"3D","c":198,"e":99.6},{"s":"3D","c":199,"e":99.52},{"s":"3D","c":200,"e":99.58},{"s":"3D","c":201,"e":99.55},{"s":"3D","c":202,"e":99.6},{"s":"3D","c":203,"e":99.5},{"s":"3D","c":204,"e":99.58},{"s":"3D","c":205,"e":99.55},{"s":"3D","c":206,"e":99.62},{"s":"3D","c":207,"e":99.78},{"s":"3D","c":208,"e":99.55},{"s":"3D","c":209,"e":99.5},{"s":"3D","c":210,"e":99.45},{"s":"3D","c":211,"e":99.58},{"s":"3D","c":212,"e":99.3},{"s":"3D","c":213,"e":99.55},{"s":"3D","c":214,"e":99.6},{"s":"3D","c":215,"e":99.58},{"s":"3D","c":216,"e":99.6},{"s":"3D","c":217,"e":99.55},{"s":"3D","c":218,"e":99.62},{"s":"3D","c":219,"e":99.6},{"s":"3D","c":220,"e":99.66},{"s":"3D","c":221,"e":99.6},
{"s":"3D","c":227,"e":99.65},{"s":"3D","c":228,"e":99.62},{"s":"3D","c":229,"e":99.68},{"s":"3D","c":230,"e":99.6},{"s":"3D","c":231,"e":99.65},{"s":"3D","c":232,"e":99.7},{"s":"3D","c":233,"e":99.62},{"s":"3D","c":234,"e":99.66},{"s":"3D","c":235,"e":99.6},{"s":"3D","c":236,"e":99.68},{"s":"3D","c":237,"e":99.64},{"s":"3D","c":238,"e":99.6},{"s":"3D","c":239,"e":99.66},{"s":"3D","c":240,"e":99.7},{"s":"3D","c":241,"e":99.85},{"s":"3D","c":242,"e":99.72},{"s":"3D","c":243,"e":99.66},{"s":"3D","c":244,"e":99.7},{"s":"3D","c":245,"e":99.45},{"s":"3D","c":246,"e":99.68},{"s":"3D","c":247,"e":99.62},{"s":"3D","c":248,"e":99.66},{"s":"3D","c":249,"e":99.6},{"s":"3D","c":250,"e":99.63}
]
},
"vconcat":[
{"width":545,"height":364,
"layer":[
{"data":{"name":"curves"},"mark":{"type":"line","strokeWidth":2.5,"clip":true,"interpolate":"monotone"},
"encoding":{
"x":{"field":"q","type":"quantitative","scale":{"domain":[-50,4530],"nice":false,"zero":false},
"axis":{"title":"Specific Capacity / mA h gₛᵢ⁻¹","titleX":298,"titlePadding":7,"values":[0,250,500,750,1000,1250,1500,1750,2000,2250,2500,2750,3000,3250,3500,3750,4000,4250,4500],"format":"d","labelExpr":"datum.value % 500 === 0 ? datum.label : ''","tickSize":{"condition":{"test":"datum.value % 500 !== 0","value":3},"value":6}}},
"y":{"field":"v","type":"quantitative","scale":{"domain":[-0.017,1.02],"nice":false,"zero":false},
"axis":{"title":"Voltage / V vs. Li","titlePadding":5,"values":[0,0.1,0.2,0.3,0.4,0.5,0.6,0.7,0.8,0.9,1.0],"format":".1f","labelExpr":"round(datum.value*10) % 2 === 0 ? datum.label : ''","tickSize":{"condition":{"test":"round(datum.value*10) % 2 !== 0","value":4},"value":7}}},
"color":{"field":"s","type":"nominal","scale":{"domain":["3D","2D"],"range":["#F7931E","#6495F2"]},"legend":null},
"detail":{"field":"k"},
"order":{"field":"i","type":"quantitative"}}},
{"data":{"values":[{}]},"mark":{"type":"text","align":"left","baseline":"middle","fontSize":23,"fontWeight":"bold","color":"#3a3a3a"},"encoding":{"x":{"datum":244},"y":{"datum":0.936},"text":{"value":"1 M LiPF₆ in FEC:EMC"}}},
{"data":{"values":[{}]},"mark":{"type":"text","align":"left","baseline":"middle","fontSize":23,"fontWeight":"bold","color":"#3a3a3a"},"encoding":{"x":{"datum":244},"y":{"datum":0.848},"text":{"value":"1.6 mgₛᵢ cm⁻²"}}},
{"data":{"values":[{}]},"mark":{"type":"text","align":"left","baseline":"middle","fontSize":32,"color":"#111"},"encoding":{"x":{"datum":4008},"y":{"datum":0.92},"text":{"value":"a)"}}},
{"data":{"values":[{}]},"mark":{"type":"text","align":"left","baseline":"middle","fontSize":23,"fontWeight":"bold","color":"#3a3a3a"},"encoding":{"x":{"datum":1285},"y":{"datum":0.182},"text":{"value":"5th"}}},
{"data":{"values":[{}]},"mark":{"type":"text","align":"left","baseline":"middle","fontSize":23,"fontWeight":"bold","color":"#3a3a3a"},"encoding":{"x":{"datum":3780},"y":{"datum":0.085},"text":{"value":"1st"}}}
]},
{"width":545,"height":364,
"layer":[
{"data":{"name":"cap"},"mark":{"type":"line","color":"#333","strokeWidth":0.9,"clip":true},
"encoding":{
"x":{"field":"c","type":"quantitative","scale":{"domain":[-3,252],"nice":false,"zero":false},
"axis":{"title":"Cycle No.","values":[0,25,50,75,100,125,150,175,200,225,250],"labelExpr":"datum.value % 50 === 0 ? datum.label : ''","tickSize":{"condition":{"test":"datum.value % 50 !== 0","value":3},"value":6}}},
"y":{"field":"q","type":"quantitative","scale":{"domain":[-104,4104],"nice":false,"zero":false},
"axis":{"title":"Specific Capacity / mA h gₛᵢ⁻¹","titlePadding":5,"values":[0,500,1000,1500,2000,2500,3000,3500,4000],"format":"d","labelExpr":"datum.value % 1000 === 0 ? datum.label : ''","tickSize":{"condition":{"test":"datum.value % 1000 !== 0","value":4},"value":7}}},
"detail":{"field":"s"}}},
{"data":{"name":"cap"},"mark":{"type":"point","filled":true,"size":80,"stroke":"#333","strokeWidth":0.8,"opacity":1,"clip":true},
"encoding":{
"x":{"field":"c","type":"quantitative"},
"y":{"field":"q","type":"quantitative"},
"color":{"field":"s","type":"nominal","scale":{"domain":["3D","2D"],"range":["#F7941D","#5B8FF0"]},
"legend":{"orient":"none","legendX":244,"legendY":15,"title":null,"padding":0,"symbolSize":170,"symbolStrokeColor":"#333","symbolStrokeWidth":1,"labelFontSize":25,"labelFontWeight":"bold","labelOffset":5,"rowPadding":2,"labelLimit":400,"labelExpr":"datum.value == '3D' ? '3D current collector' : '2D current collector'","labelColor":{"expr":"datum.value == '3D' ? '#F7941D' : '#6C9CF4'"}}},
"shape":{"field":"s","type":"nominal","scale":{"domain":["3D","2D"],"range":["square","circle"]},
"legend":{"orient":"none","legendX":244,"legendY":15,"title":null,"padding":0,"symbolSize":170,"symbolStrokeColor":"#333","symbolStrokeWidth":1,"labelFontSize":25,"labelFontWeight":"bold","labelOffset":5,"rowPadding":2,"labelLimit":400,"labelExpr":"datum.value == '3D' ? '3D current collector' : '2D current collector'","labelColor":{"expr":"datum.value == '3D' ? '#F7941D' : '#6C9CF4'"}}}}},
{"data":{"values":[{}]},"mark":{"type":"text","align":"left","baseline":"middle","fontSize":32,"color":"#111"},"encoding":{"x":{"datum":14},"y":{"datum":3722},"text":{"value":"b)"}}}
]},
{"width":545,"height":364,
"layer":[
{"data":{"name":"ce"},"mark":{"type":"point","filled":true,"size":85,"stroke":"#333","strokeWidth":0.8,"opacity":1,"clip":true},
"encoding":{
"x":{"field":"c","type":"quantitative","scale":{"domain":[-3,252],"nice":false,"zero":false},
"axis":{"title":"Cycle No.","values":[0,25,50,75,100,125,150,175,200,225,250],"labelExpr":"datum.value % 50 === 0 ? datum.label : ''","tickSize":{"condition":{"test":"datum.value % 50 !== 0","value":3},"value":6}}},
"y":{"field":"e","type":"quantitative","scale":{"domain":[94,102],"nice":false,"zero":false},
"axis":{"title":"Coulombic Efficiency / %","titlePadding":5,"values":[94,95,96,97,98,99,100,101,102],"labelExpr":"datum.value % 2 === 0 ? datum.label : ''","tickSize":{"condition":{"test":"datum.value % 2 !== 0","value":4},"value":7}}},
"color":{"field":"s","type":"nominal","scale":{"domain":["3D","2D"],"range":["#F7941D","#5B8FF0"]},
"legend":{"orient":"none","legendX":244,"legendY":297,"title":null,"padding":0,"symbolSize":170,"symbolStrokeColor":"#333","symbolStrokeWidth":1,"labelFontSize":25,"labelFontWeight":"bold","labelOffset":5,"rowPadding":2,"labelLimit":400,"labelExpr":"datum.value == '3D' ? '3D current collector' : '2D current collector'","labelColor":{"expr":"datum.value == '3D' ? '#F7941D' : '#6C9CF4'"}}},
"shape":{"field":"s","type":"nominal","scale":{"domain":["3D","2D"],"range":["square","circle"]},
"legend":{"orient":"none","legendX":244,"legendY":297,"title":null,"padding":0,"symbolSize":170,"symbolStrokeColor":"#333","symbolStrokeWidth":1,"labelFontSize":25,"labelFontWeight":"bold","labelOffset":5,"rowPadding":2,"labelLimit":400,"labelExpr":"datum.value == '3D' ? '3D current collector' : '2D current collector'","labelColor":{"expr":"datum.value == '3D' ? '#F7941D' : '#6C9CF4'"}}}}},
{"data":{"values":[{}]},"mark":{"type":"text","align":"left","baseline":"middle","fontSize":32,"color":"#111"},"encoding":{"x":{"datum":14},"y":{"datum":94.7},"text":{"value":"c)"}}}
]}
]
}
